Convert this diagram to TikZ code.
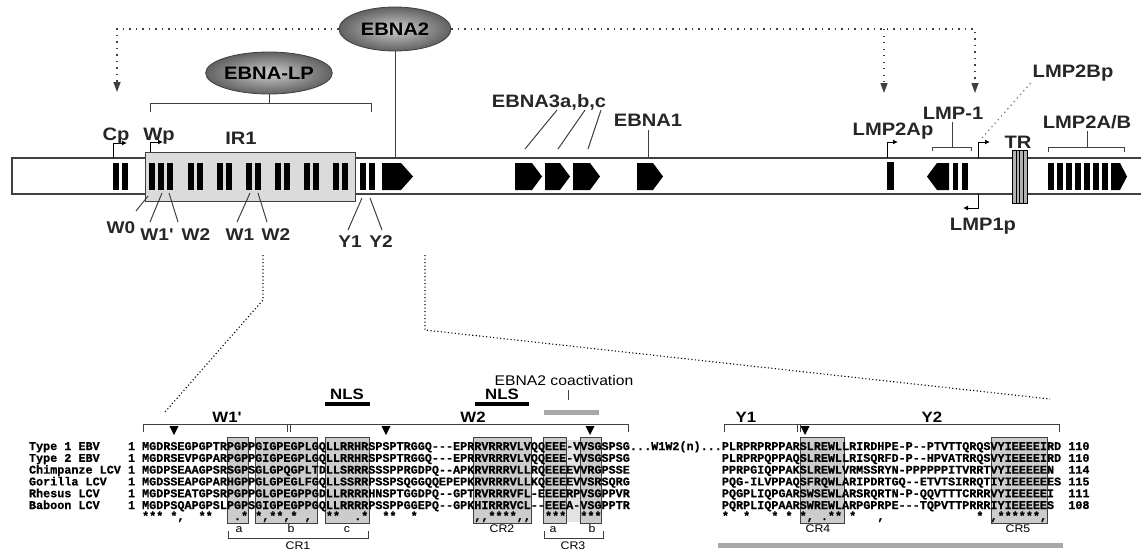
\documentclass[tikz,border=0pt]{standalone}
\usepackage{fontspec}
\setmainfont{Liberation Sans}
\newfontfamily\lblfont{Liberation Sans}[FakeStretch=1.12]
\newfontfamily\seqfont{Liberation Mono}[FakeBold=0.8]
\usetikzlibrary{arrows.meta,shapes.geometric}
\definecolor{dk}{gray}{0.25}
\definecolor{boxfill}{gray}{0.80}
\definecolor{gapfill}{gray}{0.89}
\definecolor{irfill}{gray}{0.86}
\definecolor{barg}{gray}{0.66}
\newcommand\gp{-\kern0pt }
\begin{document}
\begin{tikzpicture}[x=1pt,y=-1pt,
  lbl/.style={font=\lblfont\bfseries\fontsize{18}{20}\selectfont, inner sep=0pt, anchor=base, text=black!85},
  smlbl/.style={font=\lblfont\bfseries\fontsize{17}{19}\selectfont, inner sep=0pt, anchor=base, text=black!85},
  lowlbl/.style={font=\lblfont\bfseries\fontsize{15}{17}\selectfont, inner sep=0pt, anchor=base},
  crlbl/.style={font=\lblfont\fontsize{11}{12}\selectfont, inner sep=0pt, anchor=base},
  coactlbl/.style={font=\lblfont\fontsize{14}{16}\selectfont, inner sep=0pt, anchor=base},
  seq/.style={font=\seqfont\bfseries\fontsize{11.78}{12}\selectfont, inner sep=0pt, outer sep=0pt, anchor=base west},
  conn/.style={draw=dk, line width=1pt},
  exon/.style={fill=black},
  oval/.style={ellipse, draw=dk, line width=0.8pt, inner color=black!20, outer color=black!62, minimum width=112pt, minimum height=44pt, inner sep=0pt, font=\lblfont\bfseries\fontsize{18}{20}\selectfont},
  dotarrow/.style={draw=dk, line width=1.3pt, dash pattern=on 1.3pt off 5.2pt, -{Triangle[length=10pt,width=7pt]}},
  dotgray/.style={draw=gray, line width=1.3pt, dash pattern=on 1.3pt off 3.5pt},
  dotblack/.style={draw=black, line width=1.1pt, dash pattern=on 1.1pt off 2.4pt},
  prom/.style={draw=black, line width=1pt, -{Latex[length=5pt,width=5pt]}},
  cbox/.style={fill=boxfill, draw=dk, line width=1pt},
  tri/.style={fill=black}
]
\useasboundingbox (0,0) rectangle (1141,550);

% ---------- genome band ----------
\draw[draw=dk, line width=1.2pt, fill=white] (1145,158) -- (12,158) -- (12,194) -- (1145,194);
\draw[draw=dk, line width=1pt, fill=irfill] (145,152) rectangle (355,201);

% exons
\foreach \a/\b in {113/119,122/128,149/155,158/164,167/173,188/194,197/203,217/223,226/232,246/252,255/261,275/281,284/290,304/310,313/319,333/339,342/348,360/366,368.5/374.5}
  \fill[exon] (\a,163) rectangle (\b,190);
\fill[exon] (382,163) -- (401,163) -- (413,176.5) -- (401,190) -- (382,190) -- cycle;
\fill[exon] (515,163) -- (532,163) -- (542,176.5) -- (532,190) -- (515,190) -- cycle;
\fill[exon] (545,163) -- (560,163) -- (570,176.5) -- (560,190) -- (545,190) -- cycle;
\fill[exon] (573,163) -- (590,163) -- (600,176.5) -- (590,190) -- (573,190) -- cycle;
\fill[exon] (637,163) -- (653,163) -- (663,176.5) -- (653,190) -- (637,190) -- cycle;
\fill[exon] (887,162) rectangle (894,190);
\fill[exon] (927,176.5) -- (937,163) -- (949,163) -- (949,190) -- (937,190) -- cycle;
\fill[exon] (952.5,163) rectangle (957.5,190);
\fill[exon] (961.5,163) rectangle (968,190);
\foreach \k in {0,...,6}
  \fill[exon] ({1048+9*\k},163) rectangle ({1053.5+9*\k},190);
\fill[exon] (1111,163) -- (1120,163) -- (1127,176.5) -- (1120,190) -- (1111,190) -- cycle;
% TR
\draw[fill=gray!60, draw=black, line width=1pt] (1012,150) rectangle (1027,203);
\foreach \x in {1016,1019.5,1023} \draw[black, line width=0.6pt] (\x,150) -- (\x,203);

% promoters
\draw[prom] (113,158) -- (113,143) -- (127,143);
\draw[prom] (150,152) -- (150,142) -- (163,142);
\draw[prom] (887,158) -- (887,142) -- (898,142);
\draw[prom] (978,158) -- (978,142) -- (990,142);
\draw[prom] (978,194) -- (978,208) -- (963,208);

% ---------- ovals and dotted regulation ----------
\node[oval] (ebna2) at (395,29) {EBNA2};
\node[oval, minimum width=110pt, minimum height=42pt] (ebnalp) at (269,73) {EBNA-LP};
\coordinate (cpTip) at (117,92);
\coordinate (lmpTip) at (975,93);
\coordinate (brk) at (884,29);
\coordinate (lmp2aTip) at (884,93);
\draw[dotarrow] (ebna2.west) -| (cpTip);
\draw[dotarrow] (ebna2.east) -| (lmpTip);
\draw[dotarrow] (brk) -- (lmp2aTip);
\coordinate (e2ex) at (395,158);
\draw[conn] (ebna2.south) -- (e2ex);
\coordinate (lpb) at (269,103);
\draw[conn] (ebnalp.south) -- (lpb);
\draw[conn] (150,112) -- (150,103) -- (371,103) -- (371,112);

% ---------- top labels ----------
\node[lbl] (cp) at (116,140) {Cp};
\node[lbl] (wp) at (159,140) {Wp};
\node[lbl] (ir1) at (241,144) {IR1};
\node[smlbl] (w0) at (121,233) {W0};
\node[smlbl] (w1p) at (157,240) {W1'};
\node[smlbl] (w2a) at (196,240) {W2};
\node[smlbl] (w1) at (240,240) {W1};
\node[smlbl] (w2b) at (276,240) {W2};
\node[smlbl] (y1) at (350,247) {Y1};
\node[smlbl] (y2) at (381,247) {Y2};
\node[lbl] (e3) at (549,107) {EBNA3a,b,c};
\node[lbl] (e1) at (648,126) {EBNA1};
\node[lbl] (lmp2ap) at (893,135) {LMP2Ap};
\node[lbl] (lmp1) at (953,119) {LMP-1};
\node[lbl] (lmp2bp) at (1073,77) {LMP2Bp};
\node[lbl] (tr) at (1018,148) {TR};
\node[lbl] (lmp2ab) at (1087,128) {LMP2A/B};
\node[lbl] (lmp1p) at (983,230) {LMP1p};

% label connectors
\draw[conn] (136,211) -- (148,196);
\draw[conn] (150,222) -- (162,193);
\draw[conn] (178,222) -- (169,193);
\draw[conn] (237,222) -- (250,193);
\draw[conn] (267,222) -- (258,193);
\draw[conn] (348,230) -- (362,198);
\draw[conn] (382,230) -- (370,198);
\draw[conn] (557,110) -- (525,149);
\draw[conn] (585,110) -- (558,149);
\draw[conn] (601,110) -- (588,149);
\coordinate (e1ex) at (648,158);
\draw[conn] (e1.south |- 0,130) -- (e1ex);
\draw[conn] (952,122) -- (952,147);
\draw[conn] (932,151) -- (932,147) -- (971,147) -- (971,151);
\draw[conn] (1087,131) -- (1087,147);
\draw[conn] (1048,152) -- (1048,147) -- (1124,147) -- (1124,152);
\coordinate (bpdot) at (982,138);
\draw[dotgray] (bpdot) -- (lmp2bp.south west);

% ---------- zoom lines ----------
\coordinate (dA0) at (263,255); \coordinate (dA1) at (263,300); \coordinate (dA2) at (165,412);
\draw[dotblack] (dA0) -- (dA1) -- (dA2);
\coordinate (dB0) at (425,255); \coordinate (dB1) at (425,330); \coordinate (dB2) at (1050,399);
\draw[dotblack] (dB0) -- (dB1) -- (dB2);

% ---------- alignment ----------
\fill[gapfill] (566,440) rectangle (580,522);
\foreach \a/\b in {227/248,255/317,325/369,473/531,543/566,580/601,800/844,991/1047}
  \draw[cbox] (\a,437) rectangle (\b,523);

% brackets
\draw[conn] (143,432) -- (143,424) -- (628,424) -- (628,432);
\draw[conn] (287,424) -- (287,432);
\draw[conn] (290.5,424) -- (290.5,432);
\draw[conn] (724,432) -- (724,424) -- (1059,424) -- (1059,432);
\draw[conn] (797,424) -- (797,432);
\draw[conn] (800.5,424) -- (800.5,432);
\foreach \x in {174,386,590,805}
  \fill[tri] ({\x-4.5},426) -- ({\x+4.5},426) -- (\x,435) -- cycle;
\draw[conn] (228,531) -- (228,538) -- (368,538) -- (368,531);
\draw[conn] (544,531) -- (544,538) -- (603,538) -- (603,531);

\node[lowlbl] (lw1p) at (227,422) {W1'};
\node[lowlbl] (lw2) at (473,422) {W2};
\node[lowlbl] (ly1) at (746,422) {Y1};
\node[lowlbl] (ly2) at (932,422) {Y2};
\node[lowlbl] (nls1) at (347,399) {NLS};
\node[lowlbl] (nls2) at (502,399) {NLS};
\fill (325,401.5) rectangle (370,406);
\fill (475,401.5) rectangle (529,406);
\node[coactlbl] (coact) at (564,385.5) {EBNA2 coactivation};
\coordinate (coactTop) at (568,390);
\coordinate (coactBot) at (568,400);
\draw[conn] (coactTop) -- (coactBot);
\fill[barg] (544,410) rectangle (599,414.5);
\fill[barg] (718,543) rectangle (1063,548);

\node[crlbl] (la) at (239,532) {a};
\node[crlbl] (lb) at (291,532) {b};
\node[crlbl] (lc) at (347,532) {c};
\node[crlbl] (cr1) at (298,549) {CR1};
\node[crlbl] (cr2) at (502,532) {CR2};
\node[crlbl] (la3) at (553,532) {a};
\node[crlbl] (lb3) at (592,532) {b};
\node[crlbl] (cr3) at (573,549) {CR3};
\node[crlbl] (cr4) at (818,532) {CR4};
\node[crlbl] (cr5) at (1018,532) {CR5};

% sequences
\node[seq] (n1) at (29,450) {Type 1 EBV};
\node[seq] (n2) at (29,461.8) {Type 2 EBV};
\node[seq] (n3) at (29,473.6) {Chimpanze LCV};
\node[seq] (n4) at (29,485.4) {Gorilla LCV};
\node[seq] (n5) at (29,497.2) {Rhesus LCV};
\node[seq] (n6) at (29,509) {Baboon LCV};
\foreach \yy [count=\i] in {450,461.8,473.6,485.4,497.2,509}
  \node[seq] (one\i) at (128,\yy) {1};
\node[seq] (a1) at (142.1,450) {MGDRSEGPGPTRPGPPGIGPEGPLGQLLRRHRSPSPTRGGQ\gp\gp\gp EPRRVRRRVLVQQEEE\gp VVSGSPSG};
\node[seq] (a2) at (142.1,461.8) {MGDRSEVPGPARPGPPGIGPEGPLGQLLRRHRSPSPTRGGQ\gp\gp\gp EPRRVRRRVLVQQEEE\gp VVSGSPSG};
\node[seq] (a3) at (142.1,473.6) {MGDPSEAAGPSRSGPSGLGPQGPLTDLLSRRRSSSPPRGDPQ\gp\gp APKRVRRRVLLRQEEEEVVRGPSSE};
\node[seq] (a4) at (142.1,485.4) {MGDSSEAPGPARHGPPGLGPEGLFGQLLSSRRPSSPSQGGQQEPEPKRVRRRVLLKQEEEEVVSRSQRG};
\node[seq] (a5) at (142.1,497.2) {MGDPSEATGPSRPGPPGLGPEGPPGDLLRRRRHNSPTGGDPQ\gp\gp GPTRVRRRVFL\gp EEEERPVSGPPVR};
\node[seq] (a6) at (142.1,509) {MGDPSQAPGPSLPGPSGIGPEGPPGQLLRRRRPSSPPGGEPQ\gp\gp GPKHIRRRVCL\gp\gp EEEA\gp VSGPPTR};
\node[seq] (rep) at (630,450) {...W1W2(n)...};
\node[seq] (b1) at (721.9,450) {PLRPRPRPPARSLREWLLRIRDHPE\gp P\gp\gp PTVTTQRQSVYIEEEEIRD};
\node[seq] (b2) at (721.9,461.8) {PLRPRPQPPAQSLREWLLRISQRFD\gp P\gp\gp HPVATRRQSVYIEEEEIRD};
\node[seq] (b3) at (721.9,473.6) {PPRPGIQPPAKSLREWLVRMSSRYN\gp PPPPPPITVRRTVYIEEEEEN};
\node[seq] (b4) at (721.9,485.4) {PQG\gp ILVPPAQSFRQWLARIPDRTGQ\gp\gp ETVTSIRRQTIYIEEEEEES};
\node[seq] (b5) at (721.9,497.2) {PQGPLIQPGARSWSEWLARSRQRTN\gp P\gp QQVTTTCRRRVYIEEEEEI};
\node[seq] (b6) at (721.9,509) {PQRPLIQPAARSWREWLARPGPRPE\gp\gp\gp TQPVTTPRRRIYIEEEEES};
\node[seq] (len1) at (1068.3,450) {110};
\node[seq] (len2) at (1068.3,461.8) {110};
\node[seq] (len3) at (1068.3,473.6) {114};
\node[seq] (len4) at (1068.3,485.4) {115};
\node[seq] (len5) at (1068.3,497.2) {111};
\node[seq] (len6) at (1068.3,509) {108};
\node[seq] (consA) at (142.1,520) {***~*,~~**~~~.*~*,**,*~,~~**~~.*~~**~~*~~~~~~~~,,****,,~~***~~***};
\node[seq] (consB) at (721.9,520) {*~~*~~~*~*~*,~.**~*~~~,~~~~~~~~~~~~~*~,******,};
\end{tikzpicture}
\end{document}
